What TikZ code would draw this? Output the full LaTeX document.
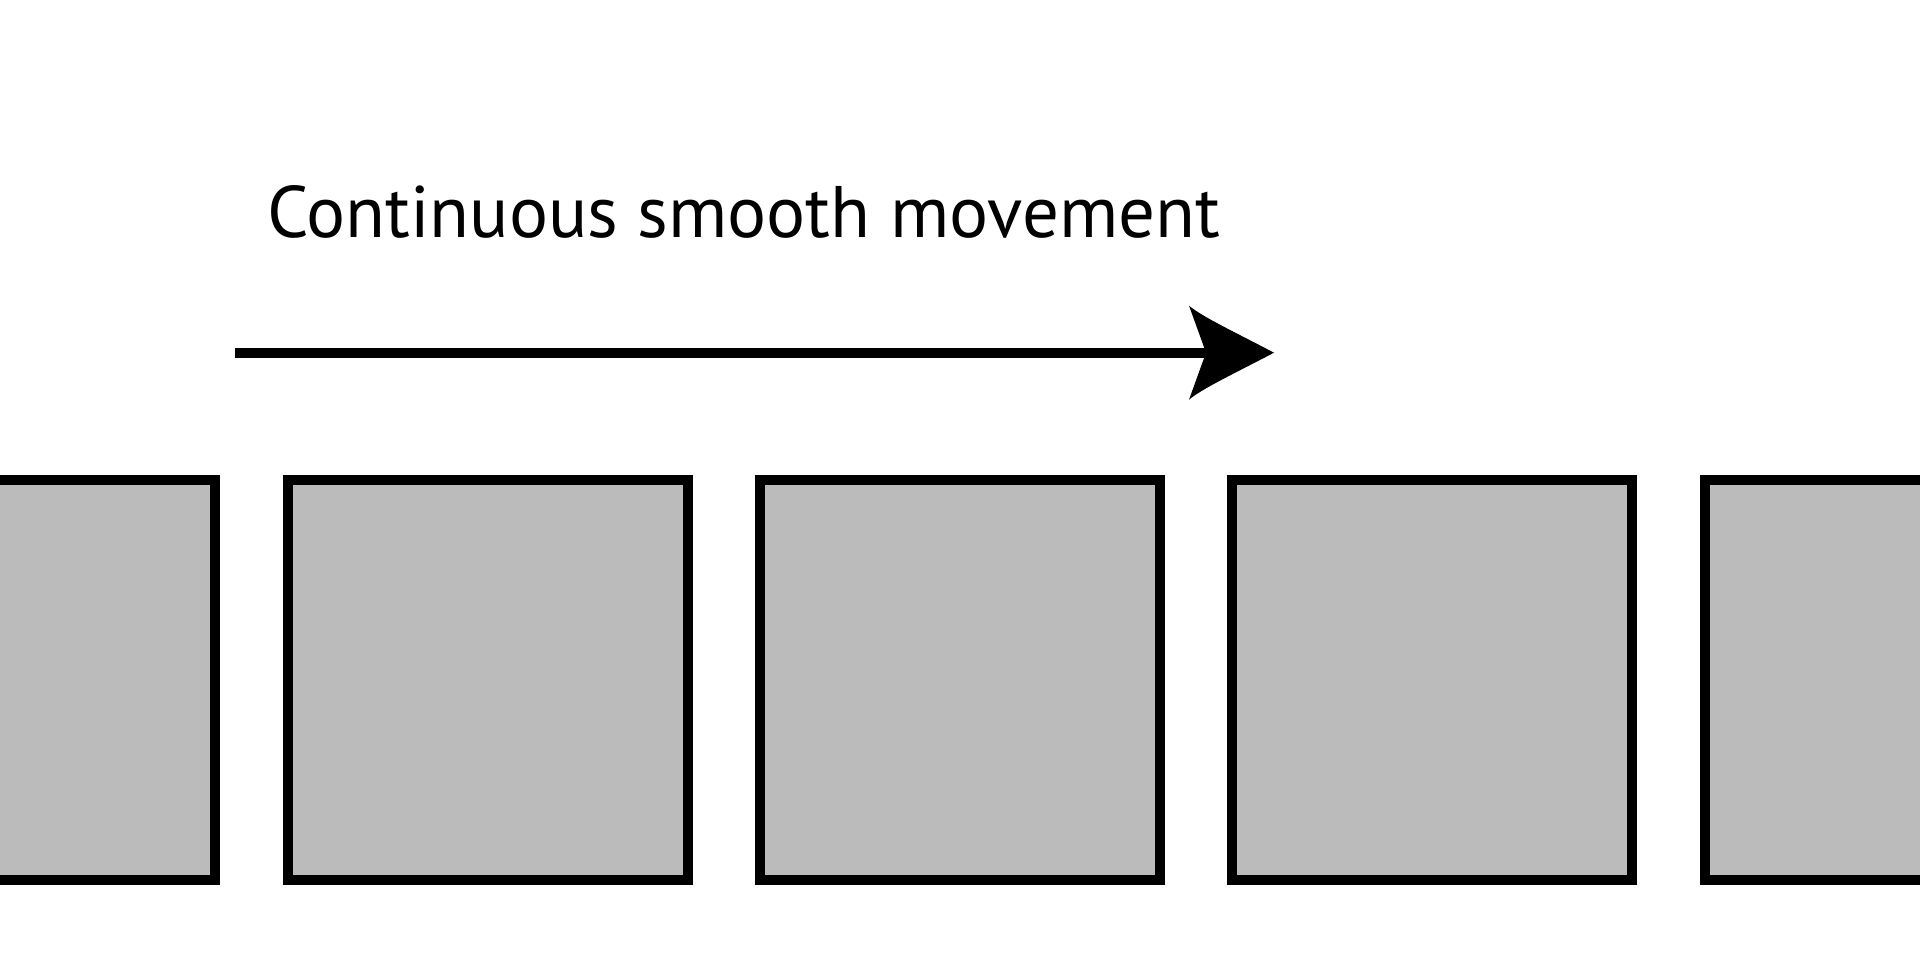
\documentclass[tikz,border=0pt]{standalone}
\usepackage{fontspec}
\setsansfont{PT Sans}
\definecolor{framegray}{HTML}{BBBBBB}
\tikzset{frame/.style={draw=black, fill=framegray, line width=10pt,
    minimum width=400pt, minimum height=400pt, inner sep=0pt}}

\begin{document}
\begin{tikzpicture}[x=1pt,y=1pt]
\useasboundingbox (0,0) rectangle (1920,960);
%
\foreach \k in {-2,...,2}
  \node[frame] (f\k) at ({960+472.4*\k},280.2) {};
%
\node[anchor=base west, inner sep=0pt, font=\sffamily\fontsize{73}{80}\selectfont]
  (label) at (267,722.7) {Continuous smooth movement};
%
\coordinate (start) at (235,607.3);
\coordinate (tip) at (1274,607.3);
\draw[line width=10pt] (start) -- ([xshift=-60pt]tip);
\fill (tip) .. controls ([shift={(-40,21)}]tip) and ([shift={(-72,36)}]tip) .. ([shift={(-85,47)}]tip)
  -- ([shift={(-68,0)}]tip) -- ([shift={(-85,-47)}]tip)
  .. controls ([shift={(-72,-36)}]tip) and ([shift={(-40,-21)}]tip) .. (tip) -- cycle;
\end{tikzpicture}
\end{document}
